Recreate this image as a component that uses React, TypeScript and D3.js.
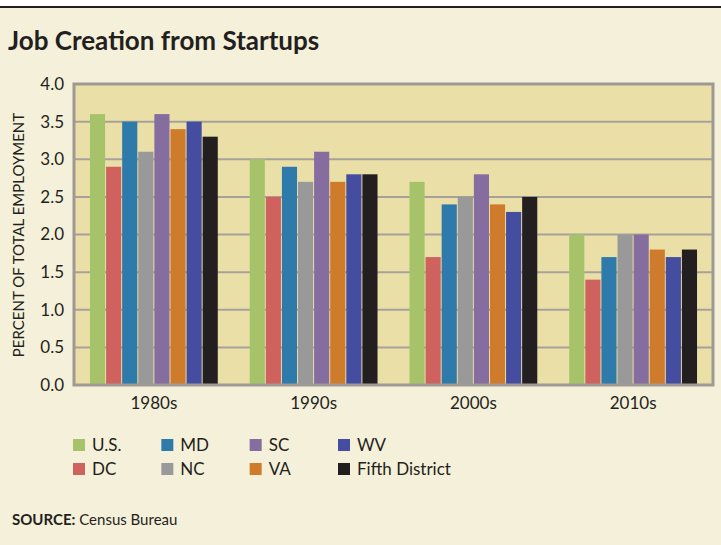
import React, { useRef, useEffect } from 'react';
import * as d3 from 'd3';

const decades = ['1980s', '1990s', '2000s', '2010s'];
const seriesNames = ['U.S.', 'DC', 'MD', 'NC', 'SC', 'VA', 'WV', 'Fifth District'];
const seriesColors = ['#A7C36A', '#CF625E', '#2E7AAA', '#999999', '#856DA0', '#CF7B2C', '#444D9F', '#231F20'];
const usValues = [3.6, 3.0, 2.7, 2.0];
const dcValues = [2.9, 2.5, 1.7, 1.4];
const mdValues = [3.5, 2.9, 2.4, 1.7];
const ncValues = [3.1, 2.7, 2.5, 2.0];
const scValues = [3.6, 3.1, 2.8, 2.0];
const vaValues = [3.4, 2.7, 2.4, 1.8];
const wvValues = [3.5, 2.8, 2.3, 1.7];
const fifthValues = [3.3, 2.8, 2.5, 1.8];
const yTicks = [0, 0.5, 1, 1.5, 2, 2.5, 3, 3.5, 4];
// legend order: column by column, two rows
const legendOrder = ['U.S.', 'DC', 'MD', 'NC', 'SC', 'VA', 'WV', 'Fifth District'];

const font = 'Lato, "Open Sans", sans-serif';

const App = () => {
    const svgRef = useRef<SVGSVGElement>(null);

    useEffect(() => {
        const width = 721;
        const height = 545;
        const margin = { top: 84, right: 8, bottom: 160, left: 74 };
        const allValues = [usValues, dcValues, mdValues, ncValues, scValues, vaValues, wvValues, fifthValues];

        const svg = d3.select(svgRef.current);
        svg.selectAll('*').remove();
        svg.attr('width', width).attr('height', height);

        // page background + top rule
        svg.append('rect').attr('width', width).attr('height', height).attr('fill', '#F5F0D9');
        svg.append('rect').attr('width', width).attr('height', 7).attr('fill', '#ffffff');
        svg.append('rect').attr('y', 6).attr('width', width).attr('height', 2).attr('fill', '#231F20');

        svg.append('text')
            .attr('x', 8)
            .attr('y', 50)
            .attr('font-family', font)
            .attr('font-weight', 700)
            .attr('font-size', 26)
            .attr('fill', '#231F20')
            .text('Job Creation from Startups');

        const x0 = d3.scaleBand()
            .domain(decades)
            .range([margin.left, width - margin.right])
            .paddingInner(0.2)
            .paddingOuter(0.1);

        const x1 = d3.scaleBand()
            .domain(seriesNames)
            .range([0, x0.bandwidth()])
            .paddingInner(0.06);

        const y = d3.scaleLinear()
            .domain([0, 4])
            .range([height - margin.bottom, margin.top]);

        const plotW = width - margin.right - margin.left;
        const plotH = height - margin.bottom - margin.top;

        svg.append('rect')
            .attr('x', margin.left)
            .attr('y', margin.top)
            .attr('width', plotW)
            .attr('height', plotH)
            .attr('fill', '#EAE0A7');

        svg.append('g')
            .selectAll('line')
            .data(yTicks)
            .enter()
            .append('line')
            .attr('x1', margin.left)
            .attr('x2', width - margin.right)
            .attr('y1', d => y(d))
            .attr('y2', d => y(d))
            .attr('stroke', '#A6A29A')
            .attr('stroke-width', 2);

        const groups = svg.append('g')
            .selectAll('g')
            .data(decades)
            .enter()
            .append('g')
            .attr('transform', d => `translate(${x0(d)},0)`);

        groups.selectAll('rect')
            .data((d, i) => seriesNames.map((s, j) => ({ s, color: seriesColors[j], v: allValues[j][i] })))
            .enter()
            .append('rect')
            .attr('x', d => x1(d.s)!)
            .attr('y', d => y(d.v))
            .attr('width', x1.bandwidth())
            .attr('height', d => y(0) - y(d.v))
            .attr('fill', d => d.color);

        svg.append('rect')
            .attr('x', margin.left)
            .attr('y', margin.top)
            .attr('width', plotW)
            .attr('height', plotH)
            .attr('fill', 'none')
            .attr('stroke', '#9E9A93')
            .attr('stroke-width', 3);

        const yAxis = d3.axisLeft(y)
            .tickValues(yTicks)
            .tickFormat(d3.format('.1f'))
            .tickSize(0)
            .tickPadding(10);

        const yG = svg.append('g')
            .attr('transform', `translate(${margin.left},0)`)
            .call(yAxis);
        yG.selectAll('text')
            .attr('font-family', font)
            .attr('font-size', 17)
            .attr('fill', '#231F20');

        const xAxis = d3.axisBottom(x0).tickSize(0).tickPadding(12);
        const xG = svg.append('g')
            .attr('transform', `translate(0,${height - margin.bottom})`)
            .call(xAxis);
        xG.selectAll('text')
            .attr('font-family', font)
            .attr('font-size', 17)
            .attr('fill', '#231F20');

        svg.selectAll('.domain').remove();

        svg.append('text')
            .attr('transform', `translate(24,235) rotate(-90)`)
            .attr('text-anchor', 'middle')
            .attr('font-family', font)
            .attr('font-size', 15)
            .attr('fill', '#231F20')
            .text('PERCENT OF TOTAL EMPLOYMENT');

        // legend
        const legendX = d3.scalePoint().domain(['0', '1', '2', '3']).range([73, 338]);
        const legendY = d3.scalePoint().domain(['0', '1']).range([439, 463]);
        const legend = svg.append('g')
            .selectAll('g')
            .data(legendOrder)
            .enter()
            .append('g')
            .attr('transform', (d, i) => `translate(${legendX(String(Math.floor(i / 2)))},${legendY(String(i % 2))})`);

        legend.append('rect')
            .attr('width', 12)
            .attr('height', 12)
            .attr('fill', d => seriesColors[seriesNames.indexOf(d)]);

        legend.append('text')
            .attr('x', 19)
            .attr('y', 12)
            .attr('font-family', font)
            .attr('font-size', 17)
            .attr('fill', '#231F20')
            .text(d => d);

        const source = svg.append('text')
            .attr('x', 12)
            .attr('y', 525)
            .attr('font-family', font)
            .attr('font-size', 15)
            .attr('fill', '#231F20');
        source.append('tspan').attr('font-weight', 700).text('SOURCE:');
        source.append('tspan').text(' Census Bureau');
    }, []);

    return (
        <svg ref={svgRef} style={{ position: 'absolute', left: 0, top: 0, display: 'block' }}></svg>
    );
};

export default App;
